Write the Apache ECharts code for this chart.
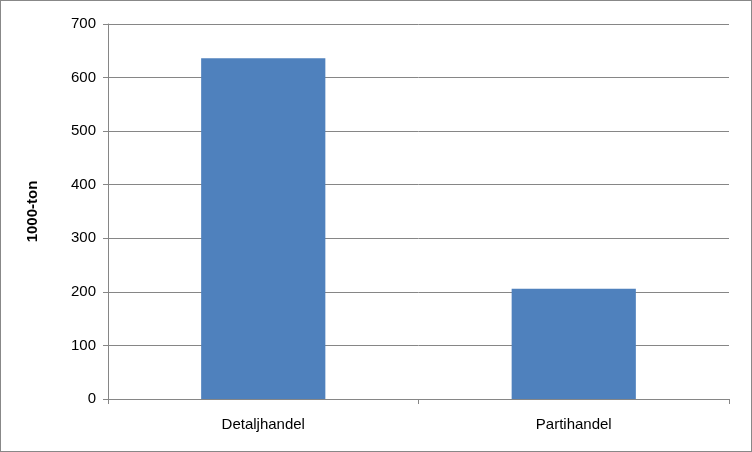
<!DOCTYPE html>
<html><head><meta charset="utf-8">
<script src="https://cdn.jsdelivr.net/npm/echarts@6/dist/echarts.min.js"></script>
<style>html,body{margin:0;padding:0;background:#fff}#c{width:750px;height:450px;border:1px solid #888}</style>
</head><body><div id="c"></div>
<script>
const categories = ["Detaljhandel", "Partihandel"];
const values = [636, 206];
const yTicks = [0, 100, 200, 300, 400, 500, 600, 700];
const chart = echarts.init(document.getElementById('c'));
chart.setOption({
  animation: false,
  grid: {left: 107, right: 22, top: 23, bottom: 52},
  xAxis: {type: 'category', data: categories,
    axisLine: {lineStyle: {color: '#868686'}},
    axisTick: {show: true, length: 5, lineStyle: {color: '#868686'}},
    axisLabel: {color: '#000', fontSize: 15, fontFamily: 'Liberation Sans, Arial', margin: 18}},
  yAxis: {type: 'value', min: 0, max: 700, interval: 100,
    name: '1000-ton', nameLocation: 'middle', nameGap: 68,
    nameTextStyle: {fontWeight: 'bold', fontSize: 15, color: '#000', fontFamily: 'Liberation Sans, Arial'},
    axisLine: {show: true, lineStyle: {color: '#868686'}},
    axisTick: {show: true, length: 5, inside: false, lineStyle: {color: '#868686'}},
    splitLine: {lineStyle: {color: '#868686'}},
    axisLabel: {color: '#000', fontSize: 15, fontFamily: 'Liberation Sans, Arial', margin: 12,
      formatter: v => yTicks.includes(v) ? String(v) : ''}},
  series: [{type: 'bar', data: values, barWidth: '40%',
    itemStyle: {color: '#4f81bd'}}]
});
</script></body></html>
